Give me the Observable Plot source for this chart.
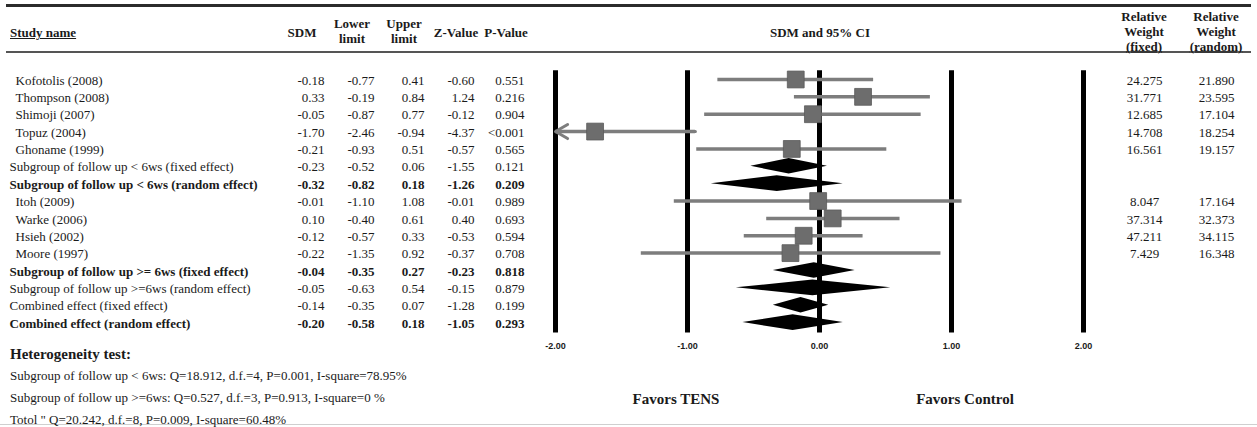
<!DOCTYPE html>
<html><head><meta charset="utf-8">
<script src="https://cdn.jsdelivr.net/npm/d3@7"></script>
<script src="https://cdn.jsdelivr.net/npm/@observablehq/plot@0.6"></script>
<style>
body{margin:0;background:#fff;}
#wrap{position:relative;width:1257px;height:427px;overflow:hidden;font-family:"Liberation Serif","Times New Roman",serif;color:#1a1a1a;background:#fff;}
.abs{position:absolute;white-space:nowrap;}
.hdr{font-weight:bold;font-size:13px;text-align:center;transform:translate(-50%,-50%);line-height:15px;}
.plotbox{position:absolute;top:0;}
</style></head><body><div id="wrap"></div>
<script>
// ---------- data ----------
const studyNames = [
  "Kofotolis (2008)","Thompson (2008)","Shimoji (2007)","Topuz (2004)","Ghoname (1999)",
  "Subgroup of follow up < 6ws (fixed effect)","Subgroup of follow up < 6ws (random effect)",
  "Itoh (2009)","Warke (2006)","Hsieh (2002)","Moore (1997)",
  "Subgroup of follow up >= 6ws (fixed effect)","Subgroup of follow up >=6ws (random effect)",
  "Combined effect (fixed effect)","Combined effect (random effect)"
];
const rowType = ["study","study","study","study","study","summary","summary",
  "study","study","study","study","summary","summary","summary","summary"];
const boldRow = [false,false,false,false,false,false,true,false,false,false,false,true,false,false,true];
const sdm    = [-0.18, 0.33,-0.05,-1.70,-0.21,-0.23,-0.32,-0.01, 0.10,-0.12,-0.22,-0.04,-0.05,-0.14,-0.20];
const lower  = [-0.77,-0.19,-0.87,-2.46,-0.93,-0.52,-0.82,-1.10,-0.40,-0.57,-1.35,-0.35,-0.63,-0.35,-0.58];
const upper  = [ 0.41, 0.84, 0.77,-0.94, 0.51, 0.06, 0.18, 1.08, 0.61, 0.33, 0.92, 0.27, 0.54, 0.07, 0.18];
const zValue = [-0.60, 1.24,-0.12,-4.37,-0.57,-1.55,-1.26,-0.01, 0.40,-0.53,-0.37,-0.23,-0.15,-1.28,-1.05];
const pValue = ["0.551","0.216","0.904","<0.001","0.565","0.121","0.209","0.989","0.693","0.594","0.708","0.818","0.879","0.199","0.293"];
const weightFixed  = [24.275,31.771,12.685,14.708,16.561,null,null,8.047,37.314,47.211,7.429,null,null,null,null];
const weightRandom = [21.890,23.595,17.104,18.254,19.157,null,null,17.164,32.373,34.115,16.348,null,null,null,null];
const xTicks = [-2,-1,0,1,2];
const tableColumns = ["SDM","Lower limit","Upper limit","Z-Value","P-Value"];
const weightColumns = ["fixed","random"];
const heterogeneityTitle = "Heterogeneity test:";
const heterogeneityLines = [
  "Subgroup of follow up < 6ws: Q=18.912, d.f.=4, P=0.001, I-square=78.95%",
  "Subgroup of follow up >=6ws: Q=0.527, d.f.=3, P=0.913, I-square=0 %",
  "Totol \" Q=20.242, d.f.=8, P=0.009, I-square=60.48%"
];
const favorLabels = ["Favors TENS","Favors Control"];

// ---------- derived tables ----------
const rows = studyNames.map((name,i)=>({
  i, name, type: rowType[i], bold: boldRow[i],
  sdm: sdm[i], lower: lower[i], upper: upper[i], z: zValue[i], p: pValue[i],
  wf: weightFixed[i], wr: weightRandom[i]
}));
const fmt2 = d => d.toFixed(2);
const cells = rows.flatMap(r => [
  {i:r.i, bold:r.bold, col:"SDM", text:fmt2(r.sdm)},
  {i:r.i, bold:r.bold, col:"Lower limit", text:fmt2(r.lower)},
  {i:r.i, bold:r.bold, col:"Upper limit", text:fmt2(r.upper)},
  {i:r.i, bold:r.bold, col:"Z-Value", text:fmt2(r.z)},
  {i:r.i, bold:r.bold, col:"P-Value", text:r.p}
]);
const wcells = rows.filter(r=>r.wf!=null).flatMap(r => [
  {i:r.i, col:"fixed", text:r.wf.toFixed(3)},
  {i:r.i, col:"random", text:r.wr.toFixed(3)}
]);
const studies = rows.filter(r=>r.type==="study");
const summaries = rows.filter(r=>r.type==="summary");
const xMin = d3.min(xTicks), xMax = d3.max(xTicks);
const half = 0.45;
const diamonds = summaries.flatMap(r => [
  {i:r.i, y:r.i-half, x1:r.sdm, x2:r.sdm},
  {i:r.i, y:r.i, x1:r.lower, x2:r.upper},
  {i:r.i, y:r.i+half, x1:r.sdm, x2:r.sdm}
]);

// ---------- layout ----------
const H = 427, MT = 70.3, MB = 94.5;
const yTop = -0.5, yBottom = rows.length - 0.4;
const yScale = {domain:[yTop, yBottom], reverse:true, axis:null};
const serif = "Liberation Serif";
const ink = "#1a1a1a";
const txt = {fontSize:13, fontFamily:serif, fill:ink, dy:1};

const wrap = document.getElementById("wrap");
function place(el, left){ const d=document.createElement("div"); d.className="plotbox"; d.style.left=left+"px"; d.appendChild(el); wrap.appendChild(d); }

// left table
const tablePlot = Plot.plot({
  width:540, height:H, marginTop:MT, marginBottom:MB, marginLeft:0, marginRight:0,
  style:{background:"transparent", fontFamily:serif, color:ink},
  x:{type:"point", domain:tableColumns, range:[322,525], padding:0, axis:null},
  y:yScale,
  marks:[
    Plot.text(studies, {...txt, y:"i", text:"name", frameAnchor:"left", textAnchor:"start", dx:15}),
    Plot.text(summaries.filter(d=>!d.bold), {...txt, y:"i", text:"name", frameAnchor:"left", textAnchor:"start", dx:9}),
    Plot.text(summaries.filter(d=>d.bold), {...txt, y:"i", text:"name", frameAnchor:"left", textAnchor:"start", dx:9, fontWeight:"bold"}),
    Plot.text(cells.filter(d=>!d.bold), {...txt, x:"col", y:"i", text:"text", textAnchor:"end"}),
    Plot.text(cells.filter(d=>d.bold), {...txt, x:"col", y:"i", text:"text", textAnchor:"end", fontWeight:"bold"})
  ]
});
place(tablePlot, 0);

// forest plot
const forestPlot = Plot.plot({
  width:560, height:H, marginTop:MT, marginBottom:MB, marginLeft:15, marginRight:17,
  style:{background:"transparent", color:ink},
  x:{domain:[xMin,xMax]},
  y:yScale,
  marks:[
    Plot.ruleX(xTicks, {y1:yTop, y2:yBottom, stroke:"#000", strokeWidth:5}),
    Plot.ruleY(studies, {y:"i", x1:d=>Math.max(d.lower,xMin), x2:d=>Math.min(d.upper,xMax), stroke:"#7d7d7d", strokeWidth:3.5}),
    Plot.arrow(studies.filter(d=>d.lower<xMin), {x1:"upper", x2:()=>xMin, y1:"i", y2:"i", stroke:"#7d7d7d", strokeWidth:3, headLength:7, headAngle:60}),
    Plot.dot(studies, {x:"sdm", y:"i", symbol:"square", r:9.5, fill:"#6d6d6d", stroke:"#5a5a5a", strokeWidth:0.8}),
    Plot.areaX(diamonds, {y:"y", x1:"x1", x2:"x2", z:"i", fill:"#000"}),
    Plot.axisX(xTicks, {anchor:"bottom", tickSize:0, tickPadding:10, tickFormat:d=>d.toFixed(2), label:null, fontSize:9, fontWeight:"bold", fontFamily:"Liberation Sans", fill:ink})
  ]
});
place(forestPlot, 540);

// right weights
const weightPlot = Plot.plot({
  width:157, height:H, marginTop:MT, marginBottom:MB, marginLeft:0, marginRight:0,
  style:{background:"transparent", fontFamily:serif, color:ink},
  x:{type:"point", domain:weightColumns, range:[44,116], padding:0, axis:null},
  y:yScale,
  marks:[
    Plot.text(wcells, {...txt, x:"col", y:"i", text:"text"})
  ]
});
place(weightPlot, 1100);

// ---------- HTML header, rules, captions ----------
function div(cls, css, html){ const d=document.createElement("div"); d.className=cls; Object.assign(d.style, css); d.innerHTML=html; wrap.appendChild(d); return d; }
div("abs", {left:"6px", top:"4px", width:"1245px", height:"3px", background:"#2b2b2b"}, "");
div("abs", {left:"6px", top:"51px", width:"1245px", height:"2px", background:"#555"}, "");
div("abs", {left:"0px", top:"424px", width:"1257px", height:"1px", background:"#cfcfcf"}, "");
div("abs", {left:"10px", top:"33px", transform:"translateY(-50%)", fontWeight:"bold", fontSize:"13px", textDecoration:"underline"}, "Study name");
const hdrs = [
  {t:"SDM", x:302, y:32}, {t:"Lower<br>limit", x:352, y:31}, {t:"Upper<br>limit", x:404, y:31},
  {t:"Z-Value", x:456, y:32}, {t:"P-Value", x:506, y:32}, {t:"SDM and 95% CI", x:820, y:32}
];
hdrs.forEach(h => div("abs hdr", {left:h.x+"px", top:h.y+"px"}, h.t));
div("abs hdr", {left:"1144px", top:"31px"}, "Relative<br>Weight<br><u>(fixed)</u>");
div("abs hdr", {left:"1216px", top:"31px"}, "Relative<br>Weight<br><u>(random)</u>");
div("abs", {left:"10px", top:"354px", transform:"translateY(-50%)", fontWeight:"bold", fontSize:"15px"}, heterogeneityTitle);
const hy = [376, 398, 420];
heterogeneityLines.forEach((t,k)=>{ const d = div("abs", {left:"10px", top:hy[k]+"px", transform:"translateY(-50%)", fontSize:"13px"}, ""); d.textContent = t; });
const fx = [676, 965];
favorLabels.forEach((t,k)=> div("abs", {left:fx[k]+"px", top:"399px", transform:"translate(-50%,-50%)", fontWeight:"bold", fontSize:"15px"}, t));
</script></body></html>
